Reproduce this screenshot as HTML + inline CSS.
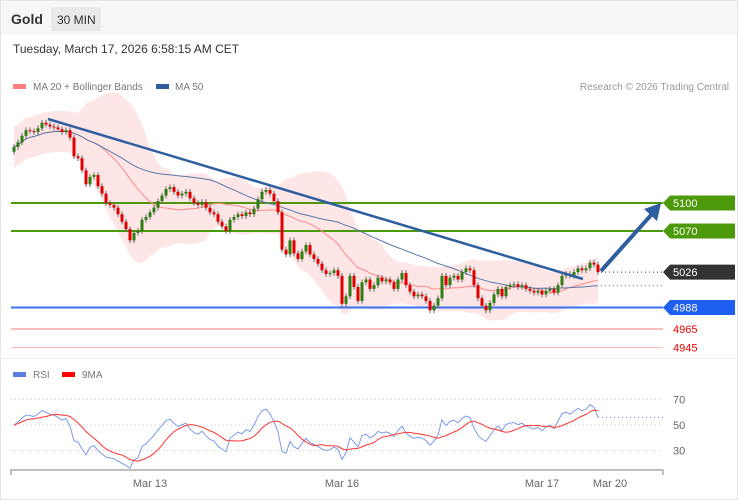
<!DOCTYPE html>
<html><head><meta charset="utf-8"><style>
body{margin:0;background:#fff;font-family:"Liberation Sans",sans-serif;}
#wrap{position:relative;width:738px;height:500px;overflow:hidden;background:#fff;}
svg{position:absolute;left:0;top:0;}
</style></head><body>
<div id="wrap">
<svg id="c" width="738" height="500">
  <rect x="0.5" y="0.5" width="737" height="499" fill="#fff" stroke="#e6e6e6"/>
  <rect x="1" y="1" width="736" height="34" fill="#f7f7f7"/>
  <text x="11" y="24" font-size="14" font-weight="bold" fill="#333">Gold</text>
  <rect x="51" y="7" width="50" height="24" fill="#e9e9e9"/>
  <text x="57" y="24" font-size="12" fill="#333">30 MIN</text>
  <text x="13" y="53" font-size="12" fill="#333">Tuesday, March 17, 2026 6:58:15 AM CET</text>
  <rect x="13" y="84" width="13" height="5" fill="#ff7f7f"/>
  <text x="33" y="90" font-size="10" fill="#777">MA 20 + Bollinger Bands</text>
  <rect x="156" y="84" width="13" height="5" fill="#2f5ea0"/>
  <text x="175" y="90" font-size="10" fill="#777">MA 50</text>
  <text x="729" y="90" font-size="10" fill="#999" text-anchor="end">Research © 2026 Trading Central</text>
  <line x1="0" y1="358.5" x2="738" y2="358.5" stroke="#eee"/>
  <g id="main"></g>
  <g id="rsi"></g>
  <rect x="13" y="372" width="13" height="5" fill="#5b7fe0"/>
  <text x="33" y="378" font-size="10" fill="#777">RSI</text>
  <rect x="62" y="372" width="13" height="5" fill="#f00"/>
  <text x="82" y="378" font-size="10" fill="#777">9MA</text>
</svg>
</div>
<script>
const closes=[5160,5165,5172,5178,5177,5176,5180,5186,5184,5182,5181,5179,5176,5178,5170,5150,5148,5135,5120,5128,5130,5118,5110,5100,5098,5095,5088,5080,5072,5060,5068,5070,5082,5085,5090,5095,5102,5108,5115,5117,5112,5108,5110,5112,5105,5100,5098,5101,5095,5090,5088,5080,5075,5070,5082,5085,5088,5086,5090,5088,5094,5104,5112,5114,5110,5102,5090,5050,5045,5060,5046,5040,5048,5055,5045,5040,5035,5028,5024,5025,5028,5022,4992,5000,5022,5010,4995,5015,5018,5008,5012,5020,5016,5018,5015,5008,5018,5025,5012,5005,5000,5002,5000,4995,4985,4990,4998,5022,5012,5020,5022,5018,5026,5030,5028,5012,4998,4990,4985,4993,5002,5008,5000,5010,5012,5013,5010,5012,5008,5006,5004,5006,5002,5006,5008,5004,5012,5022,5024,5022,5026,5030,5028,5030,5036,5034,5026];
const firstOpen=5155;
const levels=[5100,5070,5026,4988,4965,4945];
const levelKinds=["res","res","last","sup","tgt","tgt"];
const rsiTicks=[70,50,30];
const dateLabels=["Mar 13","Mar 16","Mar 17","Mar 20"];
const dateIndex=[34,82,132,149];

const NS="http://www.w3.org/2000/svg";
function el(t,a,p){const e=document.createElementNS(NS,t);for(const k in a)e.setAttribute(k,a[k]);p.appendChild(e);return e;}
const yP=p=>203+(5100-p)*0.9333;
const xI=i=>14+4*i;
const yR=v=>425-(v-50)*1.275;
const main=document.getElementById('main'), rsiG=document.getElementById('rsi');

function sma(a,n,i){let s=0,c=0;for(let k=Math.max(0,i-n+1);k<=i;k++){s+=a[k];c++;}return s/c;}
const ma20=[],ma50=[],up=[],lo=[];
closes.forEach((c,i)=>{const m=sma(closes,20,i);ma20.push(m);ma50.push(sma(closes,50,i));
 let v=0,n=0;for(let k=Math.max(0,i-19);k<=i;k++){v+=(closes[k]-m)**2;n++;}const sd=Math.sqrt(v/n);const w=Math.max(2.2*sd,22);up.push(m+w);lo.push(m-w);});
let d="M"+closes.map((c,i)=>xI(i)+","+yP(up[i])).join("L")+"L"+closes.map((c,i)=>xI(i)+","+yP(lo[i])).reverse().join("L")+"Z";
let band=el('path',{d:d,fill:'#ffe3e3',opacity:'0.9'},main);


const lvlColor={res:'#4c9a0a',last:'none',sup:'#3a6ff0'};
levels.forEach((p,k)=>{const kind=levelKinds[k];const y=yP(p);
 if(kind!=='last'){const col=kind==='tgt'?(k===4?'#e88080':'#f6b0b0'):lvlColor[kind];
 const l=el('line',{x1:11,x2:663,y1:y,y2:y,stroke:col,'stroke-width':kind==='tgt'?1:2},main);
 
 }
 if(kind==='tgt'){const t=el('text',{x:673,y:y+4,'font-size':11,fill:'#e00'},main);t.textContent=p;
  
  }
 else{const col=kind==='res'?'#4c9a0a':kind==='sup'?'#1e5ef0':'#333';
  const g=el('path',{d:`M663,${y}L670,${y-7.5}L735,${y-7.5}L735,${y+7.5}L670,${y+7.5}Z`,fill:col},main);
  
  
  const t=el('text',{x:673,y:y+4,'font-size':11,fill:'#fff'},main);t.textContent=p;
  
  }
});
const pm20=el('polyline',{points:closes.map((c,i)=>xI(i)+","+yP(ma20[i])).join(" "),fill:'none',stroke:'#f88','stroke-width':1},main);


const pm50=el('polyline',{points:closes.map((c,i)=>xI(i)+","+yP(ma50[i])).join(" "),fill:'none',stroke:'#5577aa','stroke-width':1},main);


closes.forEach((c,i)=>{const o=i?closes[i-1]:firstOpen;const hi=Math.max(o,c)+3,lw=Math.min(o,c)-3;const x=xI(i);
 const col=c>=o?'#2e7d12':'#e00000';
 const w=el('line',{x1:x,x2:x,y1:yP(hi),y2:yP(lw),stroke:'#666','stroke-width':1},main);
 
 
 const b=el('rect',{x:x-1.5,y:yP(Math.max(o,c)),width:3,height:Math.max(1,Math.abs(yP(o)-yP(c))),fill:col},main);
 
 });
const lastI=closes.length-1;
const dl=el('line',{x1:xI(lastI)+3,x2:663,y1:yP(closes[lastI]),y2:yP(closes[lastI]),stroke:'#333','stroke-dasharray':'1,3'},main);


const dm=el('line',{x1:xI(lastI)+3,x2:663,y1:yP(ma50[lastI]),y2:yP(ma50[lastI]),stroke:'#5577aa','stroke-dasharray':'1,3'},main);


const tl=el('line',{x1:48,y1:119,x2:583,y2:279,stroke:'#2f5ea0','stroke-width':2.5},main);


const ar=el('line',{x1:601,y1:271,x2:652,y2:214,stroke:'#2f5ea0','stroke-width':4},main);


const ah=el('path',{d:'M661,203L657,221L644,209Z',fill:'#2f5ea0'},main);



// RSI with neutral seed
const rsi=[];let ag=4,al=4;const N=14;
closes.forEach((c,i)=>{if(i===0){rsi.push(50);return;}const ch=c-closes[i-1];const g=Math.max(ch,0),l=Math.max(-ch,0);
 ag=(ag*(N-1)+g)/N;al=(al*(N-1)+l)/N;
 rsi.push(100-100/(1+ag/al));});
const rma=rsi.map((v,i)=>sma(rsi,9,i));
rsiTicks.forEach(v=>{const g=el('line',{x1:11,x2:663,y1:yR(v),y2:yR(v),stroke:'#ccc','stroke-dasharray':'1,3'},rsiG);
 
 
 const t=el('text',{x:673,y:yR(v)+4,'font-size':11,fill:'#666'},rsiG);t.textContent=v;
 
 });
const pr=el('polyline',{points:rsi.map((v,i)=>xI(i)+","+yR(v)).join(" "),fill:'none',stroke:'#7b9ae8','stroke-width':1},rsiG);


const pma=el('polyline',{points:rma.map((v,i)=>xI(i)+","+yR(v)).join(" "),fill:'none',stroke:'#f33','stroke-width':1},rsiG);


const rd=el('line',{x1:xI(lastI),x2:663,y1:yR(rsi[lastI]),y2:yR(rsi[lastI]),stroke:'#5b7fe0','stroke-dasharray':'1,3'},rsiG);


const ax=el('path',{d:'M11,475V470H663V475',fill:'none',stroke:'#aaa','stroke-width':1.5},rsiG);


dateLabels.forEach((s,k)=>{const t=el('text',{x:xI(dateIndex[k]),y:487,'font-size':11,fill:'#666','text-anchor':'middle'},rsiG);t.textContent=s;
 
 });
</script>
</body></html>
